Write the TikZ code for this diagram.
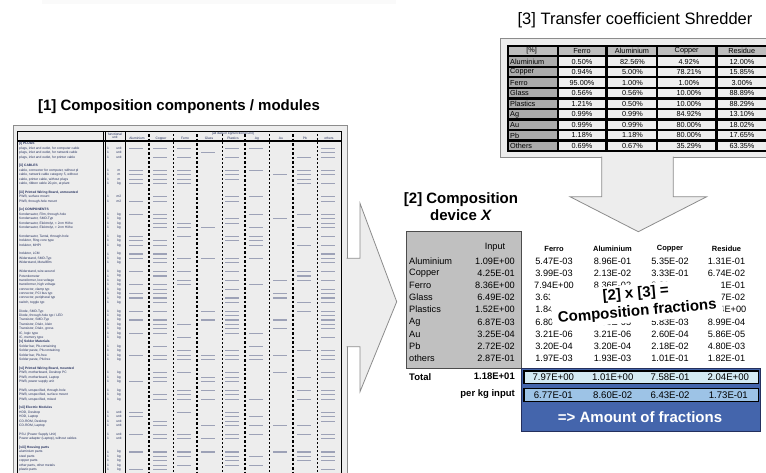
\documentclass[tikz,border=0pt]{standalone}
\usepackage{fontspec}
\setmainfont{Liberation Sans}
\usepackage{tikz}

\definecolor{panelgray}{HTML}{EDEDED}
\definecolor{framegray}{HTML}{8C8C8C}
\definecolor{hdrgray}{HTML}{BDBDBD}
\definecolor{cellgray}{HTML}{ABABAB}
\definecolor{celllight}{HTML}{EEEEEE}
\definecolor{inputgray}{HTML}{C0C0C0}
\definecolor{fracblue}{HTML}{4465AC}
\definecolor{rowcyan}{HTML}{D4EAF3}
\definecolor{rowblue}{HTML}{9DC3E6}
\definecolor{inkblue}{HTML}{24305E}

\begin{document}
\begin{tikzpicture}[x=1pt,y=-1pt,
  bigtitle/.style={font=\bfseries\fontsize{15}{17}\selectfont},
  rowtxt/.style={font=\fontsize{3.3}{3.6}\selectfont,text=inkblue,inner sep=0pt},
  rowhead/.style={rowtxt,font=\bfseries\fontsize{3.3}{3.6}\selectfont},
  numbar/.style={inkblue!45,line width=1.3pt},
  thickdash/.style={black,line width=1.4pt,dash pattern=on 2.5pt off 2pt},
  thindash/.style={black,line width=0.6pt,dash pattern=on 2pt off 2pt},
  arrowfill/.style={fill=panelgray},
  arrowline/.style={draw=framegray,line width=0.8pt},
  tcell/.style={font=\fontsize{7.3}{8}\selectfont,inner sep=0pt},
  val/.style={font=\fontsize{9.2}{10}\selectfont,inner sep=0pt},
  colhead/.style={font=\bfseries\fontsize{7.5}{8}\selectfont,inner sep=0pt},
  boldval/.style={font=\bfseries\fontsize{9.5}{10}\selectfont,inner sep=0pt}]
\useasboundingbox (0,0) rectangle (766,472);
\fill[black!2] (42,-2) rectangle (396,4);

% [1] components / modules
\node[bigtitle] (t1) at (179,106.5) {[1] Composition components / modules};
\draw[framegray,fill=panelgray] (13,125) rectangle (346.7,480);
\draw[black,line width=0.8pt] (17,131.7) rectangle (341,480);
\draw[black,line width=1.3pt] (17,141) -- (341,141);
\draw[black,line width=0.5pt] (103.5,131.7) -- (103.5,480);
\draw[black,line width=0.5pt] (105.5,131.7) -- (105.5,480);
\draw[black,line width=1pt] (125,131.7) -- (125,480);
\foreach \x in {149,197,245,293} \draw[thickdash] (\x,134) -- (\x,472);
\foreach \x in {173,222,269,317} \draw[thindash] (\x,134) -- (\x,472);
\node[rowtxt,align=center] (fu) at (115,136) {functional\\unit};
\node[rowtxt] (alld) at (233,133.2) {[all data in kg/functional unit]};
\foreach \c/\nm in {1/Aluminium,2/Copper,3/Ferro,4/Glass,5/Plastics,6/Ag,7/Au,8/Pb,9/others}
  \node[rowtxt] (h\c) at (113+24*\c,138.4) {\nm};

\foreach \s/\lbl in {0/{[i] PLUGS},5/{[ii] CABLES},11/{[iii] Printed Wiring Board, unmounted},
  15/{[iv] COMPONENTS},45/{[v] Solder Materials},51/{[vi] Printed Wiring Board, mounted},
  60/{[vii] Electric Modules},69/{[viii] Housing parts}}
  \node[rowhead,anchor=west] (g\s) at (19,144+4.4*\s) {\lbl};

\pgfmathsetseed{42}
\foreach \s/\lbl/\u in {
  1/{plugs, inlet and outlet, for computer cable}/unit,
  2/{plugs, inlet and outlet, for network cable}/unit,
  3/{plugs, inlet and outlet, for printer cable}/unit,
  6/{cable, connector for computer, without pl}/m,
  7/{cable, network cable category 5, without}/m,
  8/{cable, printer cable, without plugs}/m,
  9/{cable, ribbon cable 20-pin, at plant}/kg,
  12/{PWB, surface mount}/m2,
  13/{PWB, through-hole mount}/m2,
  16/{Kondensator, Film, through-hole}/kg,
  17/{Kondensator, SMD-Typ}/kg,
  18/{Kondensator, Elektrolyt, < 2cm Höhe}/kg,
  19/{Kondensator, Elektrolyt, > 2cm Höhe}/kg,
  21/{Kondensator, Tantal, through-hole}/kg,
  22/{Induktor, Ring core type}/kg,
  23/{Induktor, MHPI}/kg,
  25/{Induktor, LCM}/kg,
  26/{Widerstand, SMD-Typ}/kg,
  27/{Widerstand, Metallfilm}/kg,
  29/{Widerstand, wire-wound}/kg,
  30/{Potentiometer}/kg,
  31/{transformer, low voltage}/kg,
  32/{transformer, high voltage}/kg,
  33/{connector, clamp typ}/kg,
  34/{connector, PCI bus typ}/kg,
  35/{connector, peripheral typ}/kg,
  36/{switch, toggle typ}/kg,
  38/{Diode, SMD-Typ}/kg,
  39/{Diode, through-hole typ / LED}/kg,
  40/{Transistor, SMD-Typ}/kg,
  41/{Transistor, Diskr., klein}/kg,
  42/{Transistor, Diskr., gross}/kg,
  43/{IC, logic type}/kg,
  44/{IC, memory type}/kg,
  46/{Solder bar, Pb-containing}/kg,
  47/{Solder paste, Pb-containing}/kg,
  48/{Solder bar, Pb-free}/kg,
  49/{Solder paste, Pb-free}/kg,
  52/{PWB, motherboard, Desktop PC}/kg,
  53/{PWB, motherboard, Laptop}/kg,
  54/{PWB, power supply unit}/kg,
  56/{PWB, unspecified, through-hole}/kg,
  57/{PWB, unspecified, surface mount}/kg,
  58/{PWB, unspecified, mixed}/kg,
  61/{HDD, Desktop}/unit,
  62/{HDD, Laptop}/unit,
  63/{CD-ROM, Desktop}/unit,
  64/{CD-ROM, Laptop}/unit,
  66/{PSU (Power Supply Unit)}/unit,
  67/{Power adapter (Laptop), without cables}/unit,
  70/{aluminium parts}/kg,
  71/{steel parts}/kg,
  72/{copper parts}/kg,
  73/{other parts, other metals}/kg,
  74/{plastic parts}/kg}{
  \node[rowtxt,anchor=west] (r\s) at (19,144+4.4*\s) {\lbl};
  \node[rowtxt] (n\s) at (108,144+4.4*\s) {1};
  \node[rowtxt] (u\s) at (119,144+4.4*\s) {\u};
  \foreach \c/\p in {1/0.45,2/0.85,3/0.45,4/0.3,5/0.75,6/0.35,7/0.2,8/0.3,9/0.9}{
    \pgfmathtruncatemacro\hit{rnd<\p}
    \ifnum\hit=1 \draw[numbar] (105+24*\c,144+4.4*\s) -- ++(14,0); \fi
  }
}

% arrow [1] -> [2]
\fill[arrowfill] (346,258.3) -- (360,258.3) -- (360,203.3) -- (396.7,301.7)
  -- (360,391.7) -- (360,346.7) -- (346,346.7) -- cycle;
\draw[arrowline] (346.7,258.3) -- (360,258.3) -- (360,203.3) -- (396.7,301.7)
  -- (360,391.7) -- (360,346.7) -- (346.7,346.7);

% [3] transfer coefficients
\node[font=\fontsize{16.5}{18}\selectfont] (t3) at (635,20.5) {[3] Transfer coefficient Shredder};
\draw[framegray,fill=panelgray] (500,37.7) rectangle (772,156.7);
\fill[black] (507,45) rectangle (772,151.7);
\foreach \xa/\xb/\txt/\xc [count=\k] in {508.5/556.7/[\%]/531.7,558.5/605/Ferro/582,
  607.7/656/Aluminium/632,658/715/Copper/686.7,718/772/Residue/741.7}{
  \fill[hdrgray] (\xa,46.7) rectangle (\xb,55);
  \node[tcell] (th\k) at (\xc,51) {\txt};
}
\foreach \lbl/\fe/\al/\cu/\re [count=\i from 0] in {
  Aluminium/0.50\%/82.56\%/4.92\%/12.00\%,
  Copper/0.94\%/5.00\%/78.21\%/15.85\%,
  Ferro/95.00\%/1.00\%/1.00\%/3.00\%,
  Glass/0.56\%/0.56\%/10.00\%/88.89\%,
  Plastics/1.21\%/0.50\%/10.00\%/88.29\%,
  Ag/0.99\%/0.99\%/84.92\%/13.10\%,
  Au/0.99\%/0.99\%/80.00\%/18.02\%,
  Pb/1.18\%/1.18\%/80.00\%/17.65\%,
  Others/0.69\%/0.67\%/35.29\%/63.35\%}{
  \pgfmathsetmacro\yt{57.3+10.55*\i}
  \fill[cellgray] (508.5,\yt) rectangle (556.7,\yt+8.3);
  \fill[celllight] (558.5,\yt) rectangle (605,\yt+8.3);
  \fill[celllight] (607.7,\yt) rectangle (656,\yt+8.3);
  \fill[celllight] (658,\yt) rectangle (715,\yt+8.3);
  \fill[celllight] (718,\yt) rectangle (772,\yt+8.3);
  \node[tcell,anchor=west] (tl\i) at (510,\yt+4.3) {\lbl};
  \node[tcell] (tf\i) at (582,\yt+4.3) {\fe};
  \node[tcell] (ta\i) at (632.5,\yt+4.3) {\al};
  \node[tcell] (tc\i) at (689,\yt+4.3) {\cu};
  \node[tcell] (tr\i) at (742,\yt+4.3) {\re};
}

% arrow [3] -> fractions
\fill[arrowfill] (601.7,155.5) -- (601.7,196.7) -- (570,196.7) -- (638.3,231.7)
  -- (706.7,196.7) -- (673.3,196.7) -- (673.3,155.5) -- cycle;
\draw[arrowline] (601.7,156.7) -- (601.7,196.7) -- (570,196.7) -- (638.3,231.7)
  -- (706.7,196.7) -- (673.3,196.7) -- (673.3,156.7);

% [2] composition device
\node[bigtitle,align=center] (t2) at (461,206.5) {[2] Composition\\device \textit{X}};
\draw[black!70,fill=inputgray,line width=0.8pt] (406,231.7) rectangle (521.7,368.3);
\node[val] (inhead) at (495,247.7) {Input};
\foreach \nm/\ttl [count=\k] in {554/Ferro,612.5/Aluminium,670/Copper,726.5/Residue}
  \node[colhead] (ch\k) at (\nm,248.5) {\ttl};
\foreach \lbl/\inp/\fe/\al/\cu/\re [count=\i from 0] in {
  Aluminium/1.09E+00/5.47E-03/8.96E-01/5.35E-02/1.31E-01,
  Copper/4.25E-01/3.99E-03/2.13E-02/3.33E-01/6.74E-02,
  Ferro/8.36E+00/7.94E+00/8.36E-02/8.36E-02/2.51E-01,
  Glass/6.49E-02/3.63E-04/3.63E-04/6.49E-03/5.77E-02,
  Plastics/1.52E+00/1.84E-02/7.60E-03/1.52E-01/1.34E+00,
  Ag/6.87E-03/6.80E-05/6.80E-05/5.83E-03/8.99E-04,
  Au/3.25E-04/3.21E-06/3.21E-06/2.60E-04/5.86E-05,
  Pb/2.72E-02/3.20E-04/3.20E-04/2.18E-02/4.80E-03,
  others/2.87E-01/1.97E-03/1.93E-03/1.01E-01/1.82E-01}{
  \node[val,anchor=west] (ml\i) at (409,261+12.17*\i) {\lbl};
  \node[val,anchor=east] (mi\i) at (515,261+12.17*\i) {\inp};
  \node[val] (mf\i) at (554,261+12.17*\i) {\fe};
  \node[val] (ma\i) at (612.5,261+12.17*\i) {\al};
  \node[val] (mc\i) at (670,261+12.17*\i) {\cu};
  \node[val] (mr\i) at (726.5,261+12.17*\i) {\re};
}
\node[fill=white,rotate=5,align=center,inner xsep=6pt,inner ysep=3pt,
  font=\bfseries\fontsize{15}{18}\selectfont] (calc) at (636.5,303) {[2] x [3] =\\Composition fractions};

% totals
\node[boldval,anchor=west] (tot) at (409,376.7) {Total};
\node[boldval,anchor=east] (totin) at (515,376.7) {1.18E+01};
\node[boldval,anchor=east] (perkg) at (515,394.3) {per kg input};
\draw[fill=fracblue,draw=inkblue,line width=0.8pt] (521.7,368.3) rectangle (760.7,431);
\draw[fill=rowcyan,draw=black,line width=1.5pt] (524,371) rectangle (758.3,383.3);
\draw[fill=rowblue,draw=black,line width=1.5pt] (524,388.3) rectangle (758.3,401.7);
\foreach \tv/\kv/\xc [count=\k] in {7.97E+00/6.77E-01/553.3,1.01E+00/8.60E-02/612.7,
  7.58E-01/6.43E-02/670,2.04E+00/1.73E-01/728.3}{
  \node[val,font=\fontsize{9.6}{10}\selectfont] (sum\k) at (\xc,377.2) {\tv};
  \node[val,font=\fontsize{9.6}{10}\selectfont] (kg\k) at (\xc,395) {\kv};
}
\node[bigtitle,text=white] (amount) at (640,417.3) {=> Amount of fractions};
\end{tikzpicture}
\end{document}
